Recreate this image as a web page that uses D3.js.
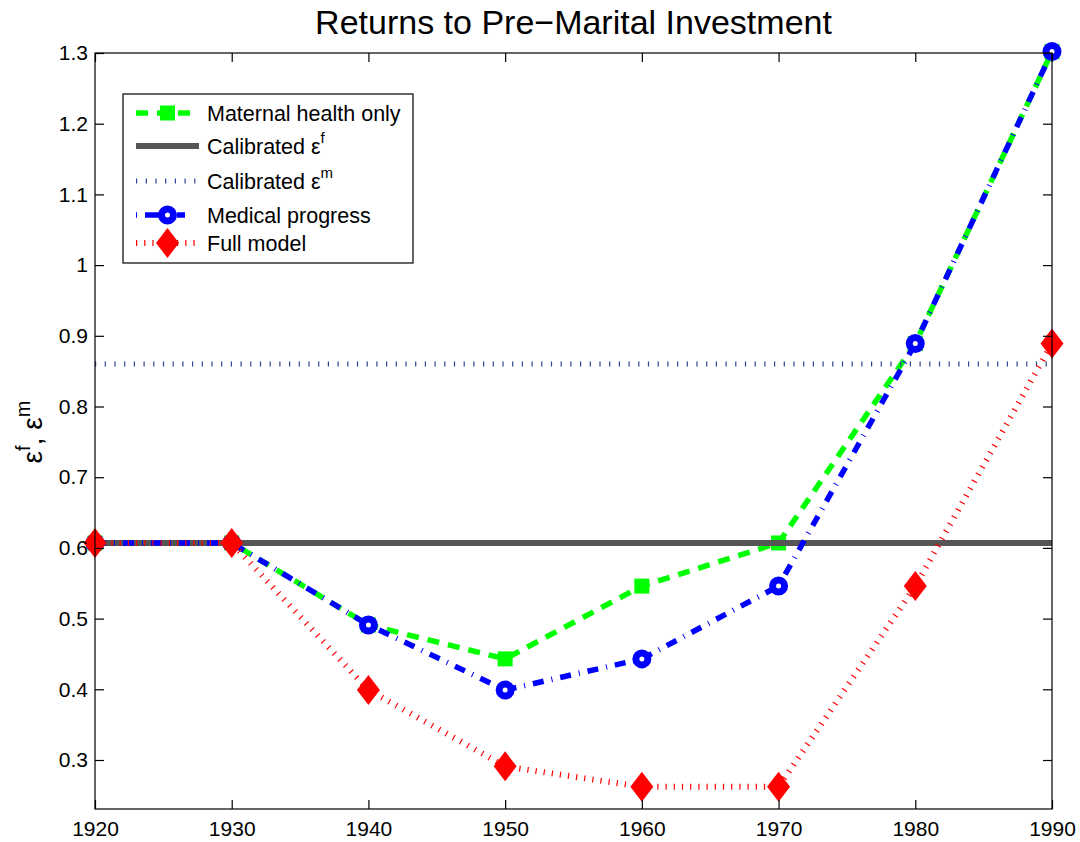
<!DOCTYPE html>
<html>
<head>
<meta charset="utf-8">
<script src="https://cdn.jsdelivr.net/npm/d3@7"></script>
<style>
  body { margin: 0; background: #fff; }
  text { font-family: "Liberation Sans", Arial, Helvetica, sans-serif; fill: #000; }
  .tick text { font-size: 21px; }
</style>
</head>
<body>
<script>
// data
const years = [1920, 1930, 1940, 1950, 1960, 1970, 1980, 1990];
const maternalHealth = [0.607, 0.607, 0.491, 0.443, 0.546, 0.607, 0.889, 1.302];
const medicalProgress = [0.607, 0.607, 0.491, 0.399, 0.443, 0.546, 0.889, 1.302];
const fullModel = [0.607, 0.607, 0.399, 0.291, 0.262, 0.262, 0.546, 0.889];
const calibratedF = 0.607;
const calibratedM = 0.86;
const yTicks = [0.3, 0.4, 0.5, 0.6, 0.7, 0.8, 0.9, 1.0, 1.1, 1.2, 1.3];
const xTicks = [1920, 1930, 1940, 1950, 1960, 1970, 1980, 1990];

const W = 1080, H = 842;
const margin = { left: 95, right: 28, top: 53, bottom: 33 };

const svg = d3.select("body").append("svg")
  .attr("width", W).attr("height", H);

const x = d3.scaleLinear().domain([1920, 1990]).range([margin.left, W - margin.right]);
const y = d3.scaleLinear().domain([0.2307, 1.3]).range([H - margin.bottom, margin.top]);

const x0 = x.range()[0], x1 = x.range()[1];
const yb = y.range()[0], yt = y.range()[1];

const plot = svg.append("g");

// --- series lines
const line = d3.line().x((d, i) => x(years[i])).y(d => y(d));

// maternal health: green dashed
plot.append("path").datum(maternalHealth)
  .attr("d", line).attr("fill", "none")
  .attr("stroke", "#00ff00").attr("stroke-width", 5.5)
  .attr("stroke-dasharray", "12,9");

plot.selectAll(".sq").data(maternalHealth).enter().append("rect")
  .attr("x", (d, i) => x(years[i]) - 7.5).attr("y", d => y(d) - 7.5)
  .attr("width", 15).attr("height", 15).attr("fill", "#00ff00");

// calibrated eps f: solid grey
plot.append("line")
  .attr("x1", x0).attr("x2", x1)
  .attr("y1", y(calibratedF)).attr("y2", y(calibratedF))
  .attr("stroke", "#555").attr("stroke-width", 6);

// calibrated eps m: dotted navy
plot.append("line")
  .attr("x1", x0).attr("x2", x1)
  .attr("y1", y(calibratedM)).attr("y2", y(calibratedM))
  .attr("stroke", "#2b4590").attr("stroke-width", 5)
  .attr("stroke-dasharray", "1.2,8.5");

// medical progress: blue dash-dot
plot.append("path").datum(medicalProgress)
  .attr("d", line).attr("fill", "none")
  .attr("stroke", "#0000ff").attr("stroke-width", 5.5)
  .attr("stroke-dasharray", "11,8,1,8");

plot.selectAll(".circ").data(medicalProgress).enter().append("circle")
  .attr("cx", (d, i) => x(years[i])).attr("cy", d => y(d))
  .attr("r", 6).attr("fill", "#fff")
  .attr("stroke", "#0000ff").attr("stroke-width", 7);

// full model: red dotted
plot.append("path").datum(fullModel)
  .attr("d", line).attr("fill", "none")
  .attr("stroke", "#ff0000").attr("stroke-width", 6)
  .attr("stroke-dasharray", "1.2,7");

const diamond = (cx, cy) => `M${cx},${cy - 15}L${cx + 11.5},${cy}L${cx},${cy + 15}L${cx - 11.5},${cy}Z`;
plot.selectAll(".dia").data(fullModel).enter().append("path")
  .attr("d", (d, i) => diamond(x(years[i]), y(d)))
  .attr("fill", "#ff0000");

// --- axes box and ticks
const box = svg.append("g");
box.append("rect")
  .attr("x", x0).attr("y", yt).attr("width", x1 - x0).attr("height", yb - yt)
  .attr("fill", "none").attr("stroke", "#000").attr("stroke-width", 1.2);

const tickLen = 9;
const xAxisB = d3.axisBottom(x).tickValues(xTicks).tickSizeInner(-tickLen).tickSizeOuter(0).tickPadding(12).tickFormat(d3.format("d"));
const xAxisT = d3.axisTop(x).tickValues(xTicks).tickSizeInner(-tickLen).tickSizeOuter(0).tickFormat("");
const yAxisL = d3.axisLeft(y).tickValues(yTicks).tickSizeInner(-tickLen).tickSizeOuter(0).tickPadding(7).tickFormat(d => String(+d.toFixed(1)));
const yAxisR = d3.axisRight(y).tickValues(yTicks).tickSizeInner(-tickLen).tickSizeOuter(0).tickFormat("");

function styleAxis(g) {
  g.select(".domain").remove();
  g.attr("font-size", 21).attr("font-family", null);
  g.selectAll(".tick line").attr("stroke", "#000").attr("stroke-width", 1.2);
  g.selectAll(".tick text")
    .style("font-size", "21px")
    .style("font-family", '"Liberation Sans", Arial, sans-serif')
    .style("fill", "#000");
}

box.append("g").attr("transform", `translate(0,${yb})`).call(xAxisB).call(styleAxis);
box.append("g").attr("transform", `translate(0,${yt})`).call(xAxisT).call(styleAxis);
box.append("g").attr("transform", `translate(${x0},0)`).call(yAxisL).call(styleAxis);
box.append("g").attr("transform", `translate(${x1},0)`).call(yAxisR).call(styleAxis);

// --- title
svg.append("text")
  .attr("x", (x0 + x1) / 2).attr("y", 34)
  .attr("text-anchor", "middle").style("font-size", "34px")
  .text("Returns to Pre\u2212Marital Investment");

// --- y label
const yl = svg.append("text")
  .attr("transform", `translate(42,${(yt + yb) / 2 + 1}) rotate(-90)`)
  .attr("text-anchor", "middle").style("font-size", "28px");
yl.append("tspan").text("\u03b5");
yl.append("tspan").attr("dy", -12).style("font-size", "20px").text("f");
yl.append("tspan").attr("dy", 12).text(", \u03b5");
yl.append("tspan").attr("dy", -12).style("font-size", "20px").text("m");

// --- legend
const legend = svg.append("g");
const lx = 123, ly = 94, lw = 290, lh = 169;
legend.append("rect")
  .attr("x", lx).attr("y", ly).attr("width", lw).attr("height", lh)
  .attr("fill", "#fff").attr("stroke", "#000").attr("stroke-width", 1.2);

const sx0 = 136, sx1 = 199, smid = (sx0 + sx1) / 2, tx = 207;
const legendRows = [113, 146, 181, 215, 243];

// maternal
legend.append("line").attr("x1", sx0).attr("x2", sx1).attr("y1", legendRows[0]).attr("y2", legendRows[0])
  .attr("stroke", "#00ff00").attr("stroke-width", 5.5).attr("stroke-dasharray", "12,9");
legend.append("rect").attr("x", smid - 7.5).attr("y", legendRows[0] - 7.5)
  .attr("width", 15).attr("height", 15).attr("fill", "#00ff00");
// calibrated f
legend.append("line").attr("x1", sx0).attr("x2", sx1).attr("y1", legendRows[1]).attr("y2", legendRows[1])
  .attr("stroke", "#555").attr("stroke-width", 6);
// calibrated m
legend.append("line").attr("x1", sx0).attr("x2", sx1).attr("y1", legendRows[2]).attr("y2", legendRows[2])
  .attr("stroke", "#2b4590").attr("stroke-width", 5).attr("stroke-dasharray", "1.2,8.5");
// medical
legend.append("line").attr("x1", sx0).attr("x2", sx1).attr("y1", legendRows[3]).attr("y2", legendRows[3])
  .attr("stroke", "#0000ff").attr("stroke-width", 5.5).attr("stroke-dasharray", "1,8,11,0,11,8,1");
legend.append("circle").attr("cx", smid).attr("cy", legendRows[3]).attr("r", 6)
  .attr("fill", "#fff").attr("stroke", "#0000ff").attr("stroke-width", 7);
// full model
legend.append("line").attr("x1", sx0).attr("x2", sx1).attr("y1", legendRows[4]).attr("y2", legendRows[4])
  .attr("stroke", "#ff0000").attr("stroke-width", 6).attr("stroke-dasharray", "1.2,7");
legend.append("path").attr("d", diamond(smid, legendRows[4])).attr("fill", "#ff0000");

const labels = [
  { main: "Maternal health only" },
  { main: "Calibrated \u03b5", sup: "f" },
  { main: "Calibrated \u03b5", sup: "m" },
  { main: "Medical progress" },
  { main: "Full model" }
];
labels.forEach((l, i) => {
  const t = legend.append("text").attr("x", tx).attr("y", legendRows[i] + 8).style("font-size", "21.5px");
  t.append("tspan").text(l.main);
  if (l.sup) t.append("tspan").attr("dy", -11).style("font-size", "15px").text(l.sup);
});
</script>
</body>
</html>
